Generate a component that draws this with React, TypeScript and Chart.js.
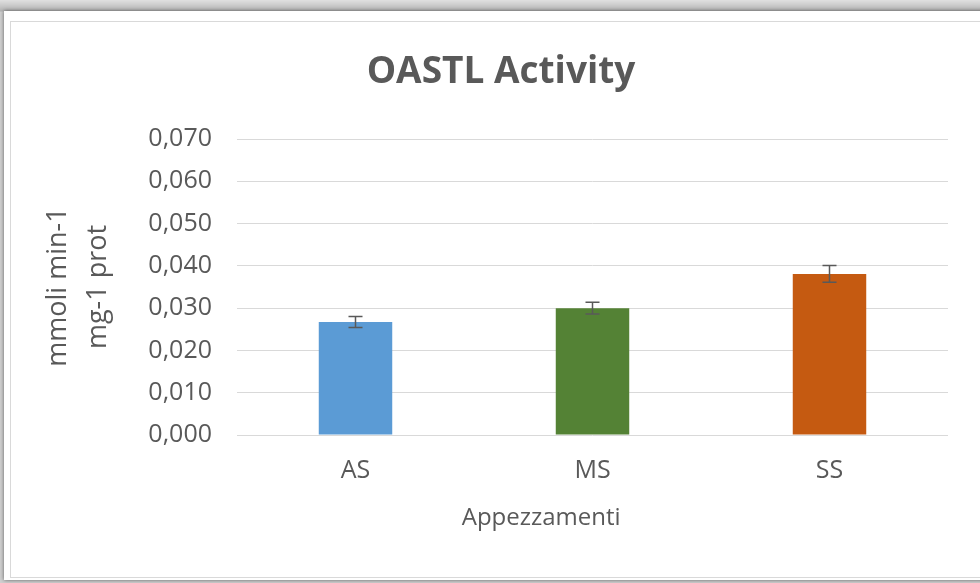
import React, { useEffect, useRef } from "react";
import { Chart, registerables } from "chart.js";

Chart.register(...registerables);

const categories = ["AS", "MS", "SS"];
const values = [0.0267, 0.03, 0.0381];
const errors = [0.0013, 0.0014, 0.002];
const colors = ["#5b9bd5", "#548235", "#c55a11"];
const yTicks = [0, 0.01, 0.02, 0.03, 0.04, 0.05, 0.06, 0.07];
const chartTitle = "OASTL Activity";
const xTitle = "Appezzamenti";
const yTitle = ["mmoli min-1", "mg-1 prot"];

const FONT = "'Open Sans', 'Liberation Sans', sans-serif";
const TEXT = "#595959";
const Y_TICK_SIZE = 25;
const Y_TICK_PAD = 25;

const fmt = (v: number) => v.toFixed(3).replace(".", ",");

const errorBarPlugin = {
  id: "errorBars",
  afterDatasetsDraw(chart: any) {
    const ctx = chart.ctx;
    const meta = chart.getDatasetMeta(0);
    const y = chart.scales.y;
    ctx.save();
    ctx.strokeStyle = "#595959";
    ctx.lineWidth = 1.5;
    meta.data.forEach((bar: any, i: number) => {
      const x = bar.x;
      const top = y.getPixelForValue(values[i] + errors[i]);
      const bot = y.getPixelForValue(values[i] - errors[i]);
      const cap = 7;
      ctx.beginPath();
      ctx.moveTo(x, top);
      ctx.lineTo(x, bot);
      ctx.moveTo(x - cap, top);
      ctx.lineTo(x + cap, top);
      ctx.moveTo(x - cap, bot);
      ctx.lineTo(x + cap, bot);
      ctx.stroke();
    });
    ctx.restore();
  },
};

// Axis title centred over the plot area together with the value labels (as in Excel)
const xTitlePlugin = {
  id: "xTitle",
  afterDraw(chart: any) {
    const ctx = chart.ctx;
    const y = chart.scales.y;
    const area = chart.chartArea;
    ctx.save();
    ctx.font = `${Y_TICK_SIZE}px ${FONT}`;
    const widest = Math.max(...yTicks.map((v) => ctx.measureText(fmt(v)).width));
    const labelsLeft = y.right - Y_TICK_PAD - widest;
    ctx.font = `24px ${FONT}`;
    ctx.fillStyle = TEXT;
    ctx.textAlign = "center";
    ctx.textBaseline = "middle";
    ctx.fillText(xTitle, (labelsLeft + area.right) / 2 - 7, area.bottom + 83);
    ctx.restore();
  },
};

export default function App() {
  const ref = useRef<HTMLCanvasElement>(null);

  useEffect(() => {
    if (!ref.current) return;
    const chart = new Chart(ref.current, {
      type: "bar",
      data: {
        labels: categories,
        datasets: [
          {
            data: values,
            backgroundColor: colors,
            borderWidth: 0,
            categoryPercentage: 1,
            barPercentage: 0.31,
          },
        ],
      },
      options: {
        responsive: false,
        animation: false,
        layout: { padding: { left: 11, right: 0, top: 0, bottom: 0 } },
        plugins: {
          legend: { display: false },
          tooltip: { enabled: false },
          title: {
            display: true,
            text: chartTitle,
            color: TEXT,
            font: { family: FONT, size: 37, weight: "bold", lineHeight: 1.2 },
            padding: { top: 28, bottom: 44.6 },
          },
        },
        scales: {
          x: {
            afterFit(scale: any) {
              scale.height = 142;
            },
            grid: { display: false, drawTicks: false },
            border: { display: false },
            ticks: {
              color: TEXT,
              padding: 21,
              font: { family: FONT, size: 25, lineHeight: 1.2 },
            },
          },
          y: {
            min: 0,
            max: 0.07,
            afterFit(scale: any) {
              scale.width = 215;
            },
            afterBuildTicks(scale: any) {
              scale.ticks = yTicks.map((v) => ({ value: v }));
            },
            grid: { color: "#d9d9d9", lineWidth: 1, drawTicks: false },
            border: { display: false },
            ticks: {
              color: TEXT,
              padding: Y_TICK_PAD,
              font: { family: FONT, size: Y_TICK_SIZE, lineHeight: 1.2 },
              callback: (v: any) => fmt(Number(v)),
            },
            title: {
              display: true,
              text: yTitle,
              color: TEXT,
              font: { family: FONT, size: 27, lineHeight: 1.48 },
              padding: { top: 16, bottom: 0 },
            },
          },
          yRight: {
            type: "linear",
            position: "right",
            afterFit(scale: any) {
              scale.width = 32;
            },
            grid: { display: false, drawTicks: false },
            border: { display: false },
            ticks: { display: false },
          },
        },
      },
      plugins: [errorBarPlugin, xTitlePlugin],
    });
    return () => chart.destroy();
  }, []);

  return (
    <div
      style={{
        position: "fixed",
        left: 0,
        top: 0,
        width: 980,
        height: 583,
        overflow: "hidden",
        background: "linear-gradient(#e0e0e0, #b4b4b4 11px, #d0d0d0 12px)",
      }}
    >
      <div
        style={{
          position: "absolute",
          left: 4,
          top: 11,
          width: 990,
          height: 569,
          background: "#ffffff",
          boxShadow: "0 0 4px rgba(0,0,0,0.55)",
        }}
      />
      <div
        style={{
          position: "absolute",
          left: 10,
          top: 21,
          width: 990,
          height: 555,
          border: "1px solid #d9d9d9",
          background: "#ffffff",
        }}
      >
        <canvas
          ref={ref}
          width={969}
          height={555}
          style={{ display: "block", width: 969, height: 555 }}
        />
      </div>
    </div>
  );
}
